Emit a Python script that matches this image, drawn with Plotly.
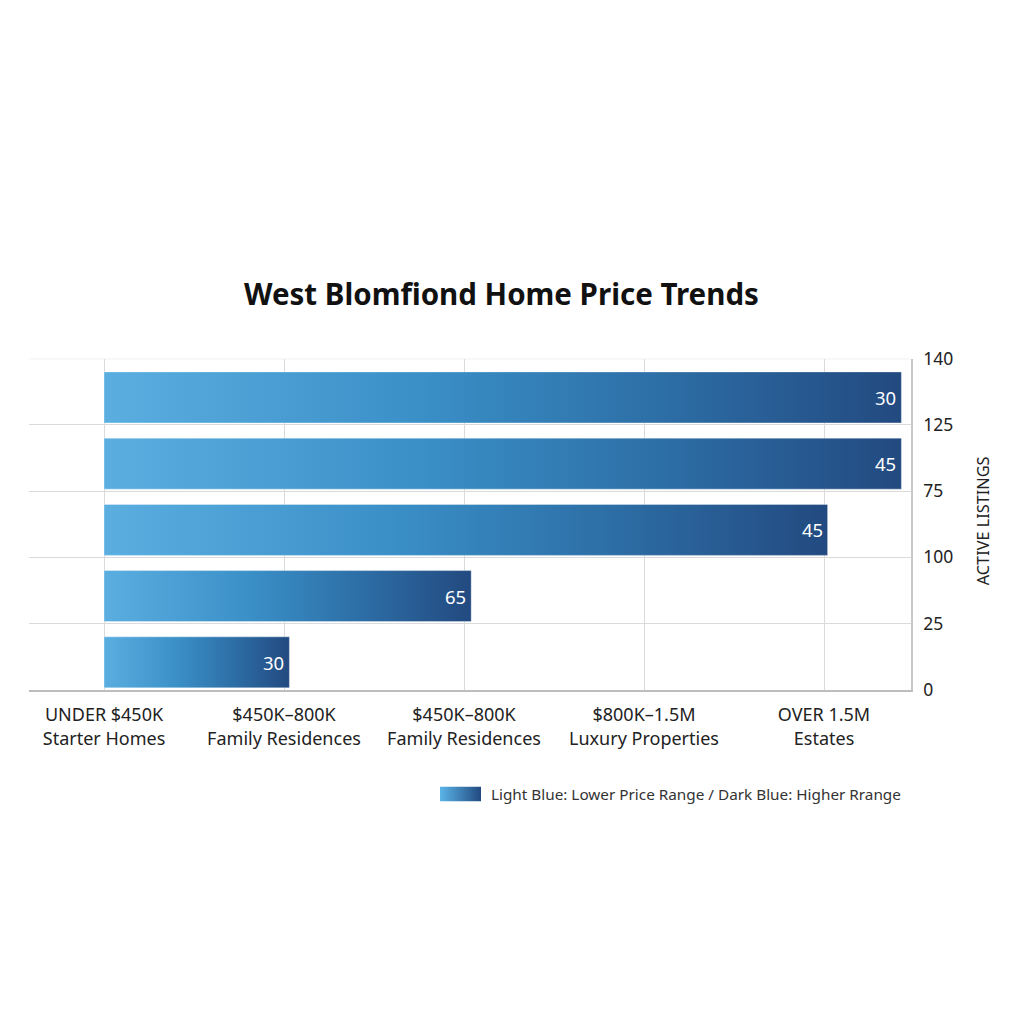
import plotly.graph_objects as go

# Chart data (bars listed top to bottom)
price_ranges = ["UNDER $450K", "$450K–800K", "$450K–800K", "$800K–1.5M", "OVER 1.5M"]
segments = ["Starter Homes", "Family Residences", "Family Residences", "Luxury Properties", "Estates"]
bar_lengths = [4.43, 4.43, 4.02, 2.04, 1.03]
bar_labels = ["30", "45", "45", "65", "30"]
y_tick_labels = ["0", "25", "100", "75", "125", "140"]

gradient = [[0.0, "#5AAEE0"], [0.4, "#3A8FC7"], [0.7, "#2D6EA6"], [1.0, "#224A80"]]

W = H = 1024


def px_x(x):
    # paper x for a target pixel column in the photographed page
    return (x - 8) / W


def px_y(y):
    # paper y for a target pixel row in the photographed page
    return 1 - ((y - 18.5) / 0.979) / H


plot_left, plot_right, plot_top, plot_bottom = 29, 911, 357, 689
tick0_px, tick_step_px = 104, 180

fig = go.Figure()

n = len(bar_lengths)
for i, (length, label) in enumerate(zip(bar_lengths, bar_labels)):
    band = n - 1 - i  # top bar sits in the highest band
    y0, y1 = band + 0.03, band + 0.80
    fig.add_trace(go.Scatter(
        x=[0, length, length, 0, 0],
        y=[y0, y0, y1, y1, y0],
        mode="lines",
        fill="toself",
        fillgradient=dict(type="horizontal", colorscale=gradient),
        line=dict(color="rgba(255,255,255,0.35)", width=1),
        hoverinfo="skip",
        showlegend=False,
    ))
    fig.add_annotation(
        x=length, y=(y0 + y1) / 2, xref="x", yref="y",
        text=label, showarrow=False, xanchor="right", xshift=-3,
        font=dict(family="Noto Sans", size=18.5, color="white"),
    )

# top border of the grid
fig.add_shape(
    type="line", xref="x domain", yref="y",
    x0=0, x1=1, y0=n, y1=n,
    line=dict(color="#DADADA", width=1), layer="below",
)

# legend swatch
fig.add_trace(go.Scatter(
    x=[0, 1, 1, 0, 0], y=[0, 0, 1, 1, 0],
    xaxis="x2", yaxis="y2",
    mode="lines", fill="toself",
    fillgradient=dict(type="horizontal", colorscale=[[0, "#5AB4E8"], [1, "#224A80"]]),
    line=dict(width=0), hoverinfo="skip", showlegend=False,
))
fig.add_annotation(
    x=px_x(489), y=px_y(793), xref="paper", yref="paper",
    text="Light Blue: Lower Price Range / Dark Blue: Higher Rrange",
    showarrow=False, xanchor="left", yanchor="middle",
    font=dict(family="Noto Sans", size=15.3, color="#333333"),
)

fig.add_annotation(
    x=px_x(501), y=px_y(292), xref="paper", yref="paper",
    text="<b>West Blomfiond Home Price Trends</b>",
    showarrow=False, xanchor="center", yanchor="middle",
    font=dict(family="Noto Sans", size=29.5, color="#111111"),
)

fig.add_annotation(
    x=px_x(983), y=px_y(520), xref="paper", yref="paper",
    text="ACTIVE LISTINGS", textangle=-90, showarrow=False,
    xanchor="center", yanchor="middle",
    font=dict(family="Noto Sans", size=16.3, color="#222222"),
)

x_ticks = [f"{p}<br>{s}" for p, s in zip(price_ranges, segments)]

fig.update_layout(
    width=W, height=H,
    margin=dict(l=0, r=0, t=0, b=0),
    paper_bgcolor="white", plot_bgcolor="white",
    font=dict(family="Noto Sans", size=18, color="#222222"),
    xaxis=dict(
        domain=[px_x(plot_left), px_x(plot_right)],
        range=[(plot_left - tick0_px) / tick_step_px, (plot_right - tick0_px) / tick_step_px],
        tickvals=list(range(len(x_ticks))), ticktext=x_ticks,
        showgrid=True, gridcolor="#DADADA", gridwidth=1,
        showline=True, linecolor="#BDBDBD", linewidth=2,
        zeroline=False, ticks="", ticklabelstandoff=8, fixedrange=True,
    ),
    yaxis=dict(
        domain=[px_y(plot_bottom), px_y(plot_top)],
        range=[0, n], side="right",
        tickvals=list(range(n + 1)), ticktext=y_tick_labels,
        showgrid=True, gridcolor="#DADADA", gridwidth=1,
        showline=True, linecolor="#C8C8C8", linewidth=1.5,
        zeroline=False, ticks="", ticklabelstandoff=7, fixedrange=True,
        tickfont=dict(size=17.5),
    ),
    xaxis2=dict(domain=[px_x(440), px_x(481)], range=[0, 1], visible=False, anchor="y2"),
    yaxis2=dict(domain=[px_y(801), px_y(786)], range=[0, 1], visible=False, anchor="x2"),
)

fig.write_html("out.html")
